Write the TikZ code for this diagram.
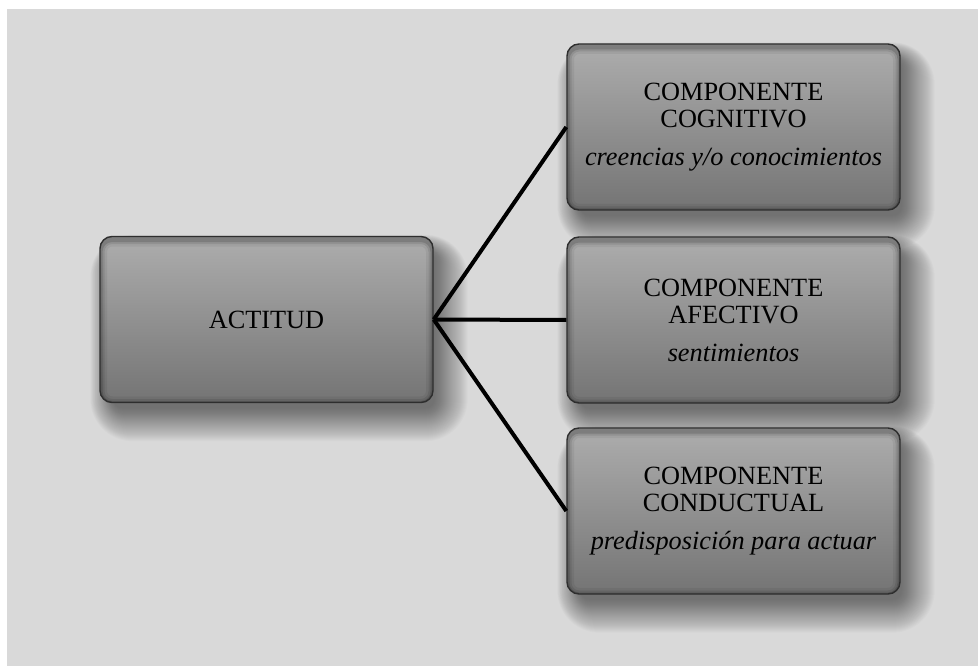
\documentclass[tikz,border=0pt]{standalone}
\usepackage{fontspec}
\setmainfont{Liberation Serif}
\usetikzlibrary{calc}
\definecolor{canvasgray}{HTML}{D9D9D9}
\definecolor{boxtop}{HTML}{ADADAD}
\definecolor{boxmid}{HTML}{A0A0A0}
\definecolor{boxbot}{HTML}{747474}
\definecolor{boxedge}{HTML}{2E2E2E}
\pgfdeclarelayer{canvaslayer}
\pgfdeclarelayer{shadowlayer}
\pgfsetlayers{canvaslayer,shadowlayer,main}
\begin{document}
\begin{tikzpicture}[x=1pt,y=-1pt,
  panel/.style={
    rectangle, rounded corners=12pt,
    minimum width=333pt, minimum height=166pt,
    top color=boxtop, middle color=boxmid, bottom color=boxbot,
    draw=boxedge, line width=1.4pt,
    align=center, text=black,
    font=\fontsize{26.3}{27.5}\selectfont,
    path picture={
      % soft inner bevel, heavier along the lower edge
      \foreach \w/\o in {14/0.06,9/0.09,5/0.14}{
        \draw[black, opacity=\o, line width=\w pt, rounded corners=12pt]
          ($(path picture bounding box.north west)+(0,3)$) rectangle
          ($(path picture bounding box.south east)+(0,1)$);
      }
    }},
  link/.style={line width=4pt, black}]
  \useasboundingbox (0,0) rectangle (978,666);
  \begin{pgfonlayer}{canvaslayer}
    \fill[white] (0,0) rectangle (978,666);
    \fill[canvasgray] (7,9) rectangle (978,666);
  \end{pgfonlayer}

  \node[panel] (act) at (266.5,319.5) {ACTITUD};
  \node[panel] (cog) at (733.5,127)
    {COMPONENTE\\COGNITIVO\\[10pt]\textit{creencias y/o conocimientos}};
  \node[panel] (afe) at (733.5,320)
    {COMPONENTE\\AFECTIVO\\[10pt]\textit{sentimientos}};
  \node[panel] (con) at (733.5,511)
    {COMPONENTE\\CONDUCTUAL\\[10pt]\textit{predisposición para actuar}};

  % soft drop shadows, built from stacked translucent rounded rectangles
  \begin{pgfonlayer}{shadowlayer}
    \foreach \n in {act,cog,afe,con}{
      \foreach \s in {0,...,33}{
        \pgfmathsetmacro{\r}{30-\s}
        \pgfmathsetmacro{\rc}{max(12+\r,2)}
        \fill[black, opacity=0.017, rounded corners=\rc pt]
          ($(\n.north west)+(12-0.7*\r,14-0.5*\r)$) rectangle
          ($(\n.south east)+(4+\r,8+\r)$);
      }
    }
  \end{pgfonlayer}

  \draw[link] (act.east) -- (cog.west);
  \draw[link] (act.east) -- (afe.west);
  \draw[link] (act.east) -- (con.west);
\end{tikzpicture}
\end{document}
